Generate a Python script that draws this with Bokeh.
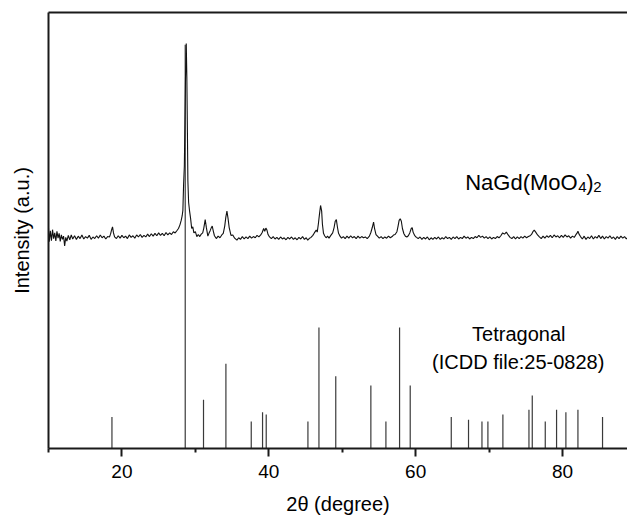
import math
from bokeh.plotting import figure
from bokeh.models import Range1d, FixedTicker, LinearAxis, Label
from bokeh.embed import file_html
from bokeh.resources import INLINE

# ICDD 25-0828 reference lines (2theta, relative intensity %)
ref_2theta = [18.64, 28.62, 31.11, 34.16, 37.61, 39.15, 39.65, 45.33, 46.83, 49.12,
              53.90, 55.95, 57.81, 59.26, 64.85, 67.20, 69.03, 69.84, 71.88, 75.43,
              75.88, 77.65, 79.19, 80.46, 82.10, 85.45]
ref_intensity = [7.8, 100.0, 12.1, 21.0, 6.7, 9.0, 8.4, 6.7, 30.0, 17.9,
                 15.6, 6.7, 30.0, 15.6, 7.8, 7.1, 6.7, 6.7, 8.4, 9.6,
                 13.1, 6.7, 9.6, 9.0, 9.6, 7.8]

# measured pattern of NaGd(MoO4)2 (offset upward)
pattern_2theta = [
    10.0, 10.1, 10.25, 10.4, 10.55, 10.7, 10.85, 11.0, 11.15, 11.3, 11.45, 11.6, 11.75, 11.9,
    12.05, 12.2, 12.35, 12.5, 12.7, 12.9, 13.1, 13.3, 13.55, 13.8, 14.05, 14.3, 14.55, 14.8,
    15.05, 15.3, 15.55, 15.8, 16.05, 16.3, 16.55, 16.8, 17.05, 17.3, 17.55, 17.8, 18.05, 18.3,
    18.45, 18.6, 18.72, 18.85, 19.0, 19.25, 19.5, 19.75, 20.0, 20.25, 20.5, 20.75, 21.0, 21.25,
    21.5, 21.75, 22.0, 22.25, 22.5, 22.75, 23.0, 23.25, 23.5, 23.75, 24.0, 24.25, 24.5, 24.75,
    25.0, 25.25, 25.5, 25.75, 26.0, 26.25, 26.5, 26.75, 27.0, 27.25, 27.5, 27.7, 27.9, 28.07,
    28.2, 28.3, 28.4, 28.5, 28.58, 28.66, 28.76, 28.84, 28.92, 28.98, 29.08, 29.2, 29.35, 29.5,
    29.65, 29.8, 30.0, 30.2, 30.4, 30.6, 30.8, 31.0, 31.15, 31.34, 31.5, 31.7, 31.85, 32.0,
    32.15, 32.3, 32.45, 32.6, 32.85, 33.1, 33.35, 33.6, 33.8, 34.0, 34.15, 34.3, 34.45, 34.6,
    34.85, 35.1, 35.35, 35.66, 35.9, 36.15, 36.4, 36.65, 36.9, 37.15, 37.4, 37.65, 37.9, 38.15,
    38.4, 38.65, 38.9, 39.1, 39.3, 39.45, 39.6, 39.75, 39.9, 40.1, 40.35, 40.6, 40.85, 41.1,
    41.35, 41.6, 41.85, 42.1, 42.35, 42.6, 42.85, 43.1, 43.35, 43.6, 43.85, 44.1, 44.35, 44.6,
    44.85, 45.1, 45.3, 45.5, 45.75, 46.0, 46.2, 46.46, 46.6, 46.75, 46.9, 47.05, 47.2, 47.3,
    47.45, 47.6, 47.8, 48.0, 48.2, 48.45, 48.7, 48.9, 49.05, 49.2, 49.35, 49.5, 49.7, 49.9,
    50.15, 50.4, 50.65, 50.9, 51.15, 51.4, 51.65, 51.9, 52.15, 52.4, 52.65, 52.9, 53.15, 53.4,
    53.7, 53.9, 54.1, 54.27, 54.4, 54.6, 54.8, 55.05, 55.3, 55.55, 55.8, 56.05, 56.3, 56.55,
    56.8, 57.0, 57.2, 57.45, 57.6, 57.75, 57.9, 58.05, 58.2, 58.4, 58.6, 58.8, 59.0, 59.2,
    59.4, 59.53, 59.65, 59.85, 60.1, 60.35, 60.6, 60.85, 61.1, 61.35, 61.6, 61.85, 62.1, 62.35,
    62.6, 62.85, 63.1, 63.35, 63.6, 63.85, 64.1, 64.35, 64.6, 64.85, 65.1, 65.35, 65.6, 65.85,
    66.1, 66.35, 66.6, 66.85, 67.1, 67.35, 67.6, 67.85, 68.1, 68.35, 68.6, 68.85, 69.1, 69.35,
    69.6, 69.85, 70.1, 70.35, 70.6, 70.85, 71.1, 71.35, 71.6, 71.85, 72.1, 72.35, 72.6, 72.85,
    73.1, 73.35, 73.6, 73.85, 74.1, 74.35, 74.6, 74.85, 75.1, 75.35, 75.6, 75.8, 76.0, 76.15,
    76.35, 76.6, 76.85, 77.1, 77.35, 77.6, 77.85, 78.1, 78.35, 78.6, 78.85, 79.1, 79.35, 79.6,
    79.85, 80.1, 80.35, 80.6, 80.85, 81.1, 81.35, 81.6, 81.8, 82.0, 82.1, 82.25, 82.45, 82.7,
    82.95, 83.2, 83.45, 83.7, 83.95, 84.2, 84.45, 84.7, 84.95, 85.2, 85.45, 85.7, 85.95, 86.2,
    86.45, 86.7, 86.95, 87.2, 87.45, 87.7, 87.95, 88.2, 88.45, 88.7, 88.9,
]
pattern_intensity = [
    54.6, 51.2, 53.9, 51.5, 54.2, 52.0, 53.4, 51.4, 53.8, 52.1, 53.3, 51.3, 52.9, 51.8,
    52.6, 50.2, 52.3, 51.4, 52.8, 51.7, 52.9, 51.9, 52.7, 51.8, 52.6, 52.0, 52.9, 51.9,
    52.5, 52.1, 52.8, 51.8, 52.4, 52.0, 52.7, 52.1, 52.9, 52.2, 52.6, 51.9, 52.5, 52.4,
    53.1, 54.2, 54.9, 53.4, 52.4, 52.0, 52.7, 52.1, 52.8, 52.2, 52.6, 52.0, 52.9, 52.3,
    52.7, 52.1, 52.9, 52.4, 53.0, 52.3, 52.8, 52.4, 53.1, 52.5, 53.2, 52.6, 53.3, 52.7,
    53.4, 52.8, 53.3, 52.7, 53.5, 52.9, 53.4, 53.0, 53.7, 53.4, 54.0, 54.5, 55.4, 56.5,
    57.6, 59.0, 65.5, 70.0, 81.0, 92.0, 100.3, 92.0, 78.0, 66.4, 61.0, 59.0, 57.0, 54.5,
    54.9, 53.4, 53.7, 52.5, 53.0, 52.5, 53.1, 53.4, 54.6, 56.7, 54.7, 52.6, 53.3, 53.9,
    54.6, 55.1, 53.8, 52.7, 52.0, 52.6, 52.2, 52.9, 53.3, 55.1, 57.3, 58.8, 57.0, 54.8,
    52.8, 52.9, 52.1, 51.6, 52.2, 51.8, 52.5, 51.9, 52.4, 52.0, 52.6, 52.1, 52.5, 52.2,
    52.8, 52.4, 52.9, 53.5, 54.5, 53.8, 54.6, 54.1, 53.0, 52.4, 52.0, 52.5, 51.9, 52.3,
    51.8, 52.4, 51.9, 52.2, 51.7, 52.3, 51.9, 52.4, 51.8, 52.2, 51.7, 52.3, 51.9, 52.5,
    51.8, 52.2, 51.6, 52.0, 52.3, 52.8, 53.4, 54.1, 53.6, 55.6, 58.0, 60.2, 58.8, 55.6,
    53.3, 52.7, 52.2, 52.6, 52.1, 52.8, 53.4, 54.8, 56.3, 56.7, 54.8, 53.3, 52.6, 52.1,
    52.5, 52.0, 52.6, 52.1, 52.7, 52.2, 52.5, 52.0, 52.6, 52.1, 52.5, 52.2, 52.4, 52.0,
    52.6, 53.5, 54.8, 56.1, 54.5, 53.0, 52.6, 52.1, 52.5, 52.0, 52.4, 52.1, 52.6, 52.2,
    52.5, 52.9, 53.0, 53.7, 55.0, 56.5, 56.9, 56.3, 54.5, 53.2, 52.6, 52.4, 52.7, 53.4,
    54.5, 54.7, 53.6, 52.8, 52.3, 52.0, 52.4, 51.8, 52.3, 51.9, 52.4, 51.7, 52.2, 51.8,
    52.3, 51.9, 52.4, 51.8, 52.2, 51.9, 52.5, 52.0, 52.3, 51.8, 52.4, 52.0, 52.5, 51.9,
    52.3, 52.0, 52.6, 52.1, 52.4, 51.9, 52.3, 52.0, 52.5, 52.2, 52.8, 52.3, 52.6, 52.1,
    52.5, 52.0, 52.4, 51.9, 52.3, 52.0, 52.5, 52.2, 52.7, 53.4, 53.1, 53.6, 52.9, 52.3,
    52.0, 52.5, 51.9, 52.4, 52.0, 52.5, 52.1, 52.6, 52.2, 52.5, 52.7, 53.1, 53.8, 54.1,
    53.6, 52.9, 52.4, 52.0, 52.6, 52.1, 52.7, 52.3, 52.8, 52.2, 52.9, 52.4, 52.7, 52.2,
    52.8, 52.3, 52.9, 52.4, 52.7, 52.1, 52.6, 52.3, 52.9, 53.4, 53.8, 53.1, 52.5, 51.9,
    52.6, 51.8, 52.4, 52.0, 52.7, 51.9, 52.5, 52.1, 52.8, 52.0, 52.6, 51.9, 52.5, 52.1,
    52.7, 52.0, 52.4, 51.8, 52.5, 52.0, 52.6, 52.1, 52.5, 51.9, 52.4,
]

x_major_ticks = [20, 40, 60, 80]
x_minor_ticks = [10, 30, 50, 70, 90]

FONT = "Liberation Sans"
INK = "#1a1a1a"

p = figure(width=627, height=519, output_backend="svg", toolbar_location=None,
           x_range=Range1d(10, 88.85), y_range=Range1d(0, 108),
           min_border_left=48, min_border_right=0, min_border_top=12, min_border_bottom=71,
           x_axis_label="2\u03b8 (degree)", y_axis_label="Intensity (a.u.)")
p.outline_line_color = None
p.grid.visible = False
p.background_fill_color = "white"
p.border_fill_color = "white"

p.segment(x0=ref_2theta, y0=[0] * len(ref_2theta), x1=ref_2theta, y1=ref_intensity,
          line_color="#3a3a3a", line_width=1.2)
p.line(pattern_2theta, pattern_intensity, line_color="#111111", line_width=1.1)

xa = p.xaxis[0]
xa.ticker = FixedTicker(ticks=x_major_ticks, minor_ticks=x_minor_ticks)
xa.major_tick_out = 8
xa.major_tick_in = 0
xa.minor_tick_out = 4
xa.minor_tick_in = 0
xa.axis_line_width = 2
xa.axis_line_color = INK
xa.major_tick_line_width = 2
xa.major_tick_line_color = INK
xa.minor_tick_line_width = 2
xa.minor_tick_line_color = INK
xa.major_label_text_font = FONT
xa.major_label_text_font_size = "19px"
xa.major_label_text_color = "black"
xa.major_label_standoff = 8
xa.axis_label_text_font = FONT
xa.axis_label_text_font_size = "20px"
xa.axis_label_text_font_style = "normal"
xa.axis_label_text_color = "black"
xa.axis_label_standoff = 12

ya = p.yaxis[0]
ya.ticker = FixedTicker(ticks=[])
ya.major_tick_out = 0
ya.major_tick_in = 0
ya.minor_tick_out = 0
ya.minor_tick_in = 0
ya.axis_line_width = 2
ya.axis_line_color = INK
ya.major_label_text_font_size = "0px"
ya.major_label_standoff = 0
ya.axis_label_text_font = FONT
ya.axis_label_text_font_size = "20px"
ya.axis_label_text_font_style = "normal"
ya.axis_label_text_color = "black"
ya.axis_label_standoff = 16

top = LinearAxis(ticker=FixedTicker(ticks=[]), axis_line_width=2, axis_line_color=INK,
                 major_tick_out=0, major_tick_in=0, minor_tick_out=0, minor_tick_in=0,
                 major_label_text_font_size="0px", major_label_standoff=0)
p.add_layout(top, "above")

# NaGd(MoO4)2 with subscripts
nx, ny = 66.75, 266
p.add_layout(Label(x=nx, y=ny, x_units="data", y_units="screen", text="NaGd(MoO",
                   text_align="left", text_baseline="alphabetic",
                   text_font=FONT, text_font_size="22px", text_color="black"))
p.add_layout(Label(x=nx, y=ny - 4, x_offset=113, x_units="data", y_units="screen", text="4",
                   text_align="left", text_baseline="alphabetic",
                   text_font=FONT, text_font_size="15px", text_color="black"))
p.add_layout(Label(x=nx, y=ny, x_offset=121, x_units="data", y_units="screen", text=")",
                   text_align="left", text_baseline="alphabetic",
                   text_font=FONT, text_font_size="22px", text_color="black"))
p.add_layout(Label(x=nx, y=ny - 4, x_offset=128, x_units="data", y_units="screen", text="2",
                   text_align="left", text_baseline="alphabetic",
                   text_font=FONT, text_font_size="15px", text_color="black"))

p.add_layout(Label(x=74.04, y=115, x_units="data", y_units="screen", text="Tetragonal",
                   text_align="center", text_baseline="alphabetic",
                   text_font=FONT, text_font_size="20px", text_color="black"))
p.add_layout(Label(x=73.97, y=86.5, x_units="data", y_units="screen",
                   text="(ICDD file:25-0828)", text_align="center", text_baseline="alphabetic",
                   text_font=FONT, text_font_size="20px", text_color="black"))

open("out.html", "w").write(file_html(p, INLINE))
